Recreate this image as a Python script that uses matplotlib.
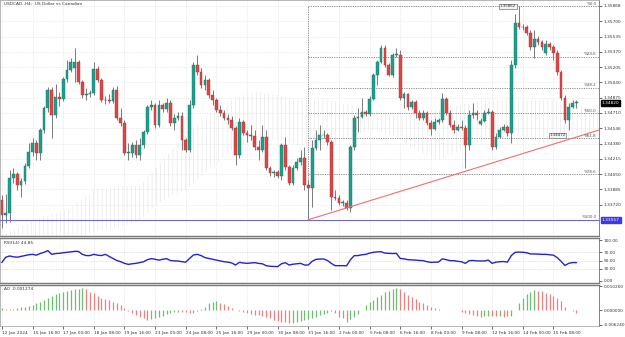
"""
USDCAD H4 chart: candles + fibo + ichimoku cloud, RSI and AO panes
"""
import matplotlib
matplotlib.use("Agg")
import matplotlib.pyplot as plt
import matplotlib.transforms as mtrans
import numpy as np

plt.rcParams['font.family'] = 'DejaVu Sans'
plt.rcParams['hatch.linewidth'] = 0.35

# ---- H4 candles ----
opens = [1.3377, 1.3361, 1.3363, 1.3401, 1.3405, 1.3393, 1.3398, 1.3414, 1.3429, 1.3439,
         1.3428, 1.3453, 1.3476, 1.3496, 1.3469, 1.3488, 1.3486, 1.3508, 1.3517, 1.3520,
         1.3526, 1.3504, 1.3490, 1.3491, 1.3493, 1.3518, 1.3507, 1.3485, 1.3485, 1.3484,
         1.3496, 1.3466, 1.3460, 1.3428, 1.3428, 1.3436, 1.3426, 1.3436, 1.3450, 1.3477,
         1.3480, 1.3458, 1.3480, 1.3475, 1.3482, 1.3460, 1.3466, 1.3468, 1.3442, 1.3431,
         1.3480, 1.3523, 1.3515, 1.3501, 1.3507, 1.3490, 1.3485, 1.3474, 1.3471, 1.3466,
         1.3463, 1.3455, 1.3426, 1.3461, 1.3449, 1.3447, 1.3446, 1.3434, 1.3431, 1.3445,
         1.3412, 1.3406, 1.3407, 1.3403, 1.3436, 1.3413, 1.3395, 1.3412, 1.3418, 1.3422,
         1.3393, 1.3390, 1.3433, 1.3442, 1.3447, 1.3447, 1.3440, 1.3380, 1.3379, 1.3374,
         1.3374, 1.3368, 1.3434, 1.3466, 1.3467, 1.3472, 1.3470, 1.3486, 1.3512, 1.3526,
         1.3541, 1.3523, 1.3512, 1.3534, 1.3534, 1.3487, 1.3491, 1.3477, 1.3483, 1.3471,
         1.3466, 1.3471, 1.3460, 1.3454, 1.3461, 1.3463, 1.3486, 1.3471, 1.3458, 1.3453,
         1.3456, 1.3455, 1.3436, 1.3469, 1.3471, 1.3459, 1.3462, 1.3471, 1.3472, 1.3434,
         1.3445, 1.3453, 1.3456, 1.3449, 1.3523, 1.3568, 1.3564, 1.3564, 1.3557, 1.3542,
         1.3551, 1.3548, 1.3536, 1.3545, 1.3542, 1.3536, 1.3515, 1.3487, 1.3463, 1.3477,
         1.3482]
highs = [1.3382, 1.3384, 1.3409, 1.3412, 1.3407, 1.3401, 1.3417, 1.3439, 1.3444, 1.3442,
         1.3455, 1.3479, 1.3499, 1.3499, 1.3502, 1.3494, 1.3510, 1.3528, 1.3530, 1.3541,
         1.3528, 1.3507, 1.3498, 1.3496, 1.3526, 1.3522, 1.3509, 1.3489, 1.3491, 1.3499,
         1.3500, 1.3476, 1.3463, 1.3439, 1.3440, 1.3442, 1.3444, 1.3453, 1.3480, 1.3485,
         1.3482, 1.3485, 1.3482, 1.3487, 1.3485, 1.3470, 1.3472, 1.3472, 1.3444, 1.3485,
         1.3526, 1.3534, 1.3520, 1.3512, 1.3509, 1.3496, 1.3487, 1.3480, 1.3474, 1.3470,
         1.3468, 1.3457, 1.3466, 1.3463, 1.3453, 1.3458, 1.3453, 1.3442, 1.3458, 1.3453,
         1.3414, 1.3409, 1.3409, 1.3439, 1.3445, 1.3415, 1.3415, 1.3422, 1.3431, 1.3434,
         1.3399, 1.3442, 1.3453, 1.3458, 1.3453, 1.3449, 1.3442, 1.3388, 1.3382, 1.3377,
         1.3377, 1.3436, 1.3469, 1.3476, 1.3487, 1.3474, 1.3489, 1.3514, 1.3528, 1.3544,
         1.3544, 1.3525, 1.3536, 1.3541, 1.3539, 1.3494, 1.3493, 1.3485, 1.3485, 1.3474,
         1.3474, 1.3473, 1.3463, 1.3466, 1.3466, 1.3493, 1.3488, 1.3474, 1.3463, 1.3459,
         1.3463, 1.3458, 1.3474, 1.3482, 1.3474, 1.3466, 1.3474, 1.3476, 1.3474, 1.3449,
         1.3456, 1.3459, 1.3458, 1.3528, 1.3578, 1.35862, 1.3567, 1.3566, 1.3561, 1.3561,
         1.3554, 1.3550, 1.3550, 1.3548, 1.3544, 1.3539, 1.3517, 1.3490, 1.3482, 1.3485,
         1.3485]
lows = [1.3347, 1.3352, 1.3353, 1.3395, 1.3388, 1.3380, 1.3394, 1.3412, 1.3425, 1.3420,
        1.3420, 1.3449, 1.3472, 1.3444, 1.3466, 1.3479, 1.3484, 1.3504, 1.3515, 1.3504,
        1.3502, 1.3487, 1.3485, 1.3488, 1.3490, 1.3504, 1.3483, 1.3481, 1.3482, 1.3482,
        1.3463, 1.3457, 1.3426, 1.3420, 1.3423, 1.3422, 1.3420, 1.3433, 1.3448, 1.3474,
        1.3455, 1.3456, 1.3472, 1.3472, 1.3457, 1.3453, 1.3463, 1.3431, 1.3429, 1.3429,
        1.3476, 1.3512, 1.3498, 1.3496, 1.3487, 1.3480, 1.3472, 1.3468, 1.3463, 1.3459,
        1.3453, 1.3415, 1.3422, 1.3447, 1.3440, 1.3442, 1.3431, 1.3420, 1.3429, 1.3409,
        1.3403, 1.3402, 1.3401, 1.3399, 1.3409, 1.3393, 1.3393, 1.3409, 1.3415, 1.3388,
        1.33557, 1.3369, 1.3431, 1.3431, 1.3444, 1.3436, 1.3366, 1.3377, 1.3372, 1.3371,
        1.3366, 1.3364, 1.3431, 1.3450, 1.3466, 1.3468, 1.3468, 1.3485, 1.3501, 1.3525,
        1.3521, 1.3511, 1.3510, 1.3531, 1.3485, 1.3476, 1.3474, 1.3475, 1.3466, 1.3463,
        1.3463, 1.3458, 1.3447, 1.3453, 1.3459, 1.3461, 1.3469, 1.3456, 1.3449, 1.3452,
        1.3453, 1.3412, 1.3431, 1.3466, 1.3463, 1.3458, 1.3461, 1.3470, 1.3431, 1.3432,
        1.3444, 1.3452, 1.3446, 1.3439, 1.3520, 1.3562, 1.3561, 1.3555, 1.3539, 1.3530,
        1.3544, 1.3539, 1.3534, 1.3539, 1.3528, 1.3512, 1.3485, 1.3460, 1.3453, 1.3476,
        1.3476]
closes = [1.3361, 1.3363, 1.3401, 1.3405, 1.3393, 1.3398, 1.3414, 1.3429, 1.3439, 1.3428,
          1.3453, 1.3476, 1.3496, 1.3469, 1.3488, 1.3486, 1.3508, 1.3517, 1.3526, 1.3526,
          1.3504, 1.3490, 1.3491, 1.3493, 1.3518, 1.3507, 1.3485, 1.3485, 1.3484, 1.3496,
          1.3466, 1.3460, 1.3428, 1.3428, 1.3436, 1.3426, 1.3436, 1.3450, 1.3477, 1.3480,
          1.3458, 1.3480, 1.3475, 1.3482, 1.3460, 1.3466, 1.3468, 1.3442, 1.3431, 1.3480,
          1.3523, 1.3515, 1.3501, 1.3507, 1.3490, 1.3485, 1.3474, 1.3471, 1.3466, 1.3463,
          1.3455, 1.3426, 1.3461, 1.3449, 1.3447, 1.3446, 1.3434, 1.3431, 1.3445, 1.3412,
          1.3406, 1.3407, 1.3403, 1.3436, 1.3413, 1.3395, 1.3412, 1.3418, 1.3422, 1.3393,
          1.3390, 1.3433, 1.3442, 1.3447, 1.3447, 1.3440, 1.3380, 1.3379, 1.3374, 1.3374,
          1.3368, 1.3434, 1.3466, 1.3467, 1.3472, 1.3470, 1.3486, 1.3512, 1.3526, 1.3541,
          1.3523, 1.3512, 1.3534, 1.3534, 1.3487, 1.3491, 1.3477, 1.3483, 1.3471, 1.3466,
          1.3471, 1.3460, 1.3454, 1.3461, 1.3463, 1.3486, 1.3471, 1.3458, 1.3453, 1.3456,
          1.3455, 1.3436, 1.3469, 1.3471, 1.3469, 1.3462, 1.3471, 1.3472, 1.3434, 1.3445,
          1.3453, 1.3456, 1.3449, 1.3523, 1.3568, 1.3564, 1.3564, 1.3557, 1.3542, 1.3551,
          1.3548, 1.3542, 1.3545, 1.3542, 1.3536, 1.3515, 1.3487, 1.3463, 1.3477, 1.3482,
          1.3482]

# ichimoku cloud edges, sampled every 6 bars
cloud_bars = [0, 6, 12, 18, 24, 30, 36, 42, 48, 54, 60, 66, 72, 78, 84, 90, 96, 102,
              108, 114, 120, 126, 132, 138, 144, 150, 156]
cloud_top = [1.3339, 1.3350, 1.3361, 1.3368, 1.3388, 1.3392, 1.3392, 1.3420, 1.3447,
             1.3469, 1.3485, 1.3494, 1.3490, 1.3485, 1.3485, 1.3480, 1.3474, 1.3469,
             1.3469, 1.3474, 1.3480, 1.3485, 1.3485, 1.3485, 1.3485, 1.3480, 1.3474]
cloud_bottom = [1.3334, 1.3334, 1.3334, 1.3334, 1.3342, 1.3347, 1.3355, 1.3377, 1.3388,
                1.3409, 1.3431, 1.3442, 1.3442, 1.3436, 1.3431, 1.3442, 1.3453, 1.3447,
                1.3431, 1.3420, 1.3431, 1.3442, 1.3453, 1.3442, 1.3436, 1.3442, 1.3447]

# fibo retracement (low bar 80 -> high bar 135) and trend line
fib_hi = 1.35862
fib_lo = 1.33557
fib_start = 80
fib_levels = [0.0, 23.6, 38.2, 50.0, 61.8, 78.6, 100.0]
trend_bars = [80, 121]
trend_prices = [1.33557, 1.3408]

price_ticks = [1.35868, 1.35700, 1.35535, 1.35370, 1.35205, 1.35040, 1.34875, 1.34710,
               1.34546, 1.34380, 1.34215, 1.34050, 1.33885, 1.33720]

# ---- RSI(14) ----
rsi = [45.5, 58, 61, 59, 58, 60, 62, 64, 65, 63,
       67, 70, 74, 65, 67, 67.5, 69, 70, 71, 72.4,
       72, 65, 62, 62, 65, 63, 62, 65, 60, 55,
       50, 47, 43, 40.6, 42, 43, 45, 47, 52, 54.5,
       53, 51, 53, 54.5, 50, 49, 48.8, 47, 46, 55,
       63.4, 65, 62, 57, 55, 53, 51, 49, 47, 46,
       44, 39, 45.5, 44, 43, 44, 44.7, 43, 42, 37.4,
       36, 35.5, 35, 42, 44.7, 39, 41, 42, 43, 39,
       39, 48, 52.8, 53.5, 53.7, 50, 43, 37.4, 37.4, 37.4,
       37, 52, 61.8, 62, 64, 65, 68, 70, 71, 71.5,
       68, 67.5, 67, 67.5, 55, 54, 52, 51.5, 51, 50,
       49.6, 47, 45.5, 46, 46.3, 54, 52, 49.6, 49.6, 48,
       47, 43, 49.6, 50, 49, 49, 48.8, 51, 43, 46,
       47, 47.5, 46, 62, 70, 70.5, 70, 69, 66, 66,
       65.5, 65, 65, 64, 63, 57, 48, 38, 43, 45,
       44.85]

# ---- Awesome Oscillator ----
ao = [0.0007, 0.0004, 0.0003, 0.0005, 0.0008, 0.0011, 0.0014, 0.0018, 0.0021, 0.0028,
      0.0035, 0.0042, 0.0050, 0.0059, 0.0068, 0.0073, 0.0078, 0.0082, 0.0085, 0.0088,
      0.0091, 0.0094, 0.0088, 0.0078, 0.0071, 0.0060, 0.0052, 0.0047, 0.0043, 0.0036,
      0.0029, 0.0020, 0.0008, -0.0004, -0.0014, -0.0021, -0.0028, -0.0036, -0.0043, -0.0039,
      -0.0035, -0.0030, -0.0026, -0.0018, -0.0011, -0.0008, -0.0007, -0.0007, -0.0009, -0.0011,
      -0.0014, -0.0005, 0.0004, 0.0011, 0.0028, 0.0034, 0.0038, 0.0031, 0.0024, 0.0017,
      0.0008, 0.0002, -0.0003, -0.0010, -0.0014, -0.0017, -0.0020, -0.0022, -0.0026, -0.0031,
      -0.0035, -0.0043, -0.0047, -0.0050, -0.0053, -0.0057, -0.0054, -0.0050, -0.0046, -0.0043,
      -0.0040, -0.0034, -0.0028, -0.0022, -0.0016, -0.0011, -0.0004, -0.0014, -0.0028, -0.0036,
      -0.0050, -0.0040, -0.0028, -0.0015, -0.0002, 0.0021, 0.0032, 0.0043, 0.0054, 0.0064,
      0.0075, 0.0082, 0.0089, 0.0092, 0.0088, 0.0078, 0.0064, 0.0055, 0.0045, 0.0036,
      0.0028, 0.0021, 0.0014, 0.0008, 0.0003, 0.0001, 0.0001, 0.0001, 0.0002, 0.0001,
      -0.0007, -0.0014, -0.0018, -0.0022, -0.0025, -0.0028, -0.0026, -0.0025, -0.0026, -0.0027,
      -0.0026, -0.0028, -0.0026, -0.0024, 0.0000, 0.0031, 0.0050, 0.0068, 0.0077, 0.0085,
      0.0082, 0.0079, 0.0074, 0.0068, 0.0060, 0.0050, 0.0040, 0.0012, 0.0000, -0.0006,
      -0.0013]
ao_last = -0.001274

date_bars = [0, 8, 16, 24, 32, 40, 48, 56, 64, 72, 80, 88, 96, 104, 112, 120, 128, 136, 144]
date_labels = ['12 Jan 2024', '15 Jan 16:00', '17 Jan 00:00', '18 Jan 08:00', '19 Jan 16:00',
               '23 Jan 00:00', '24 Jan 08:00', '25 Jan 16:00', '29 Jan 00:00', '30 Jan 08:00',
               '31 Jan 16:00', '2 Feb 00:00', '5 Feb 08:00', '6 Feb 16:00', '8 Feb 00:00',
               '9 Feb 08:00', '12 Feb 16:00', '14 Feb 00:00', '15 Feb 08:00']

# figure in pixel units
W, H = 625, 337
RIGHT = 599
fig = plt.figure(figsize=(W / 100, H / 100), dpi=100)


def paneAxes(top, bottom):
    return fig.add_axes([0, (H - bottom) / H, RIGHT / W, (bottom - top) / H])


ax = paneAxes(0, 236)
axr = paneAxes(238, 283)
axa = paneAxes(285, 326)

x = np.arange(len(closes))
o = np.array(opens)
c = np.array(closes)
xmax = 155.9
gridc = '#dcdcdc'
txtc = '#333333'
fs = 3.1

for a in (ax, axr, axa):
    a.set_xlim(-0.5, xmax)
    a.yaxis.tick_right()
    a.tick_params(axis='y', length=2, width=0.5, labelsize=fs, pad=1.2, colors=txtc)
    a.set_xticks(date_bars)
    a.tick_params(axis='x', length=0, labelbottom=False)
    for s in a.spines.values():
        s.set_color('#9a9a9a')
        s.set_linewidth(0.5)
    a.spines['right'].set_color('#555555')
    a.grid(True, color=gridc, linestyle=(0, (1, 1.5)), linewidth=0.5)
    a.set_axisbelow(True)

# separators between panes
for a, side in ((ax, 'bottom'), (axr, 'top'), (axr, 'bottom'), (axa, 'top')):
    a.spines[side].set_color('#7a7a7a')
    a.spines[side].set_linewidth(1.0)

# ---- main pane ----
ax.set_ylim(1.33381, 1.3593)
ax.set_yticks(price_ticks)
ax.set_yticklabels(['%.5f' % p for p in price_ticks])

ax.fill_between(cloud_bars, cloud_bottom, cloud_top, facecolor='none',
                hatch='||||', edgecolor='#e0e0e0', linewidth=0, zorder=1)

# candles
up = c >= o
body_lo = np.minimum(o, c)
body_h = np.maximum(np.abs(c - o), 0.00003)
ax.vlines(x, lows, highs, colors='#7a7a7a', linewidth=0.7, zorder=3)
ax.bar(x[up], body_h[up], bottom=body_lo[up], width=0.72, color='#1f9e8a',
       edgecolor='#137364', linewidth=0.3, zorder=4)
ax.bar(x[~up], body_h[~up], bottom=body_lo[~up], width=0.72, color='#e04545',
       edgecolor='#a83232', linewidth=0.3, zorder=4)

# fibo levels
dotted = (0, (1.2, 1.2))
for lv in fib_levels:
    p = fib_hi - (fib_hi - fib_lo) * lv / 100
    ax.hlines(p, fib_start, xmax, colors='#8c8c8c', linestyles=[dotted], linewidth=0.7, zorder=2)
    ax.text(xmax - 0.6, p + 0.00004, '%%%.1f' % lv, ha='right', va='bottom',
            fontsize=2.9, color='#555555', zorder=6)
ax.vlines(fib_start, fib_lo, fib_hi, colors='#8c8c8c', linestyles=[dotted], linewidth=0.7, zorder=2)

# horizontal line at the swing low
ax.axhline(fib_lo, color='#6b6bd8', linewidth=0.8, zorder=5)

# trend line (ray to the right)
slope = (trend_prices[1] - trend_prices[0]) / (trend_bars[1] - trend_bars[0])
ax.plot([trend_bars[0], xmax], [trend_prices[0], trend_prices[0] + slope * (xmax - trend_bars[0])],
        color='#f07070', linewidth=0.8, zorder=5)

# price labels on the chart
ax.text(134.3, fib_hi, '%.5f' % fib_hi, ha='right', va='center', fontsize=2.9, color=txtc,
        bbox=dict(boxstyle='square,pad=0.15', fc='#f2f2f2', ec='#777777', lw=0.5), zorder=7)
ax.text(147.2, 1.3447, '1.34472', ha='right', va='center', fontsize=2.9, color=txtc,
        bbox=dict(boxstyle='square,pad=0.15', fc='#f2f2f2', ec='#777777', lw=0.5), zorder=7)

# boxes on the price scale
trans = mtrans.blended_transform_factory(ax.transAxes, ax.transData)
ax.text(1.005, c[-1], '%.5f' % c[-1], transform=trans, ha='left', va='center', fontsize=fs,
        color='white', bbox=dict(boxstyle='square,pad=0.2', fc='black', ec='black'),
        zorder=8, clip_on=False)
ax.text(1.005, fib_lo, '%.5f' % fib_lo, transform=trans, ha='left', va='center', fontsize=fs,
        color='white', bbox=dict(boxstyle='square,pad=0.2', fc='#3a3ae0', ec='#3a3ae0'),
        zorder=8, clip_on=False)

ax.text(0.006, 0.99, 'USDCAD.,H4:  US Dollar vs Canadian', transform=ax.transAxes,
        ha='left', va='top', fontsize=fs, color=txtc)

# ---- RSI pane ----
axr.set_ylim(-4.9, 104.9)
axr.set_yticks([100, 70, 50, 30, 0])
axr.set_yticklabels(['100.00', '70.00', '50.00', '30.00', '0.00'])
axr.grid(False, axis='y')
for lv in (70, 50, 30):
    axr.axhline(lv, color='#c8c8c8', linestyle=(0, (1, 1.5)), linewidth=0.5)
axr.plot(x, rsi, color='#2424cc', linewidth=1.0)
axr.text(0.006, 0.93, 'RSI(14) %.2f' % rsi[-1], transform=axr.transAxes, ha='left',
         va='top', fontsize=fs, color=txtc)

# ---- AO pane ----
axa.set_ylim(-0.0068, 0.01063)
axa.set_yticks([0.0102, 0.0, -0.00624])
axa.set_yticklabels(['0.010200', '0.000000', '-0.006240'])
axa.grid(False, axis='y')
aoa = np.array(ao)
rising = np.r_[True, aoa[1:] > aoa[:-1]]
axa.vlines(x[rising], 0, aoa[rising], colors='#6cbf6c', linewidth=0.9)
axa.vlines(x[~rising], 0, aoa[~rising], colors='#f08080', linewidth=0.9)
axa.text(0.006, 0.95, 'AO %.6f' % ao_last, transform=axa.transAxes, ha='left',
         va='top', fontsize=fs, color=txtc)

axa.tick_params(axis='x', length=2.5, width=0.5, labelbottom=True, labelsize=fs,
                pad=1, colors=txtc)
axa.set_xticklabels(date_labels, ha='left')

fig.savefig('out.png', dpi=100)
